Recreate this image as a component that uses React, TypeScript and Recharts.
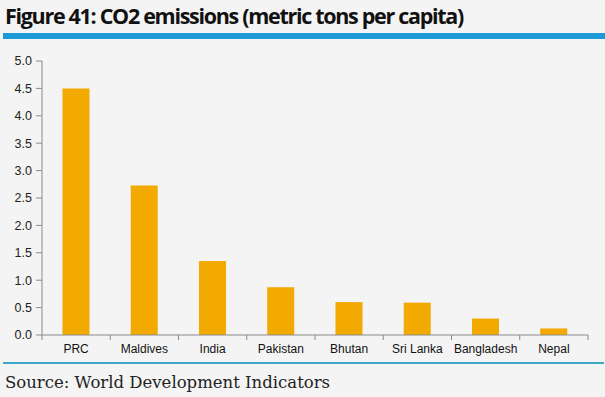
import React from 'react'
import { BarChart, Bar, XAxis, YAxis } from 'recharts'

const countries = ['PRC', 'Maldives', 'India', 'Pakistan', 'Bhutan', 'Sri Lanka', 'Bangladesh', 'Nepal']
const emissions = [4.5, 2.73, 1.35, 0.87, 0.6, 0.59, 0.3, 0.12]
const yTicks = [0, 0.5, 1, 1.5, 2, 2.5, 3, 3.5, 4, 4.5, 5]

const data = countries.map((name, i) => ({ name, value: emissions[i] }))

const axisColor = '#8a8a8a'
const labelFont = "'Liberation Sans', Arial, sans-serif"

function CountryTick(props: any) {
    const { x, y, payload, index, width, visibleTicksCount } = props
    const band = width / visibleTicksCount
    const last = index === visibleTicksCount - 1
    return (
        <g>
            <line x1={x - band / 2} y1={y} x2={x - band / 2} y2={y + 5} stroke={axisColor} />
            {last && <line x1={x + band / 2} y1={y} x2={x + band / 2} y2={y + 5} stroke={axisColor} />}
            <text
            x={x}
            y={y + 18}
            textAnchor="middle"
            fill="#111"
            fontSize={12}
            fontFamily={labelFont}
            >
                {payload.value}
            </text>
        </g>
    )
}

export default function App() {
  return (
    <div style={{ position: 'absolute', left: 0, top: 0, width: 605, height: 397, background: '#f4f4f4', overflow: 'hidden' }}>
        <div style={{
            position: 'absolute',
            left: 5,
            top: 1,
            fontFamily: "'Open Sans', sans-serif",
            fontWeight: 700,
            fontSize: 21.5,
            letterSpacing: -1.3,
            color: '#111',
            whiteSpace: 'nowrap'
        }}>
            Figure 41: CO2 emissions (metric tons per capita)
        </div>
        <div style={{ position: 'absolute', left: 3, top: 33, width: 602, height: 6, background: '#1b9ad6' }} />

        <div style={{ position: 'absolute', left: 0, top: 0 }}>
            <BarChart
            width={605}
            height={397}
            data={data}
            margin={{ top: 61, right: 17, bottom: 32, left: 0 }}
            barCategoryGap="30%"
            >
                <YAxis
                width={42}
                domain={[0, 5]}
                ticks={yTicks}
                interval={0}
                tickFormatter={(v: number) => v.toFixed(1)}
                axisLine={{ stroke: axisColor }}
                tickLine={{ stroke: axisColor }}
                tickSize={6}
                tickMargin={4}
                tick={{ fill: '#222', fontSize: 12.5, fontFamily: labelFont }}
                />
                <XAxis
                dataKey="name"
                height={30}
                interval={0}
                tickLine={false}
                tickSize={0}
                tickMargin={0}
                axisLine={{ stroke: axisColor }}
                tick={<CountryTick />}
                />
                <Bar dataKey="value" fill="#f2a900" isAnimationActive={false} />
            </BarChart>
        </div>

        <div style={{ position: 'absolute', left: 3, top: 362, width: 601, height: 2, background: '#3da8c8' }} />
        <div style={{
            position: 'absolute',
            left: 5,
            top: 373,
            fontFamily: "'DejaVu Serif', serif",
            fontSize: 16.5,
            color: '#222',
            whiteSpace: 'nowrap'
        }}>
            Source: World Development Indicators
        </div>
    </div>
  )
}
